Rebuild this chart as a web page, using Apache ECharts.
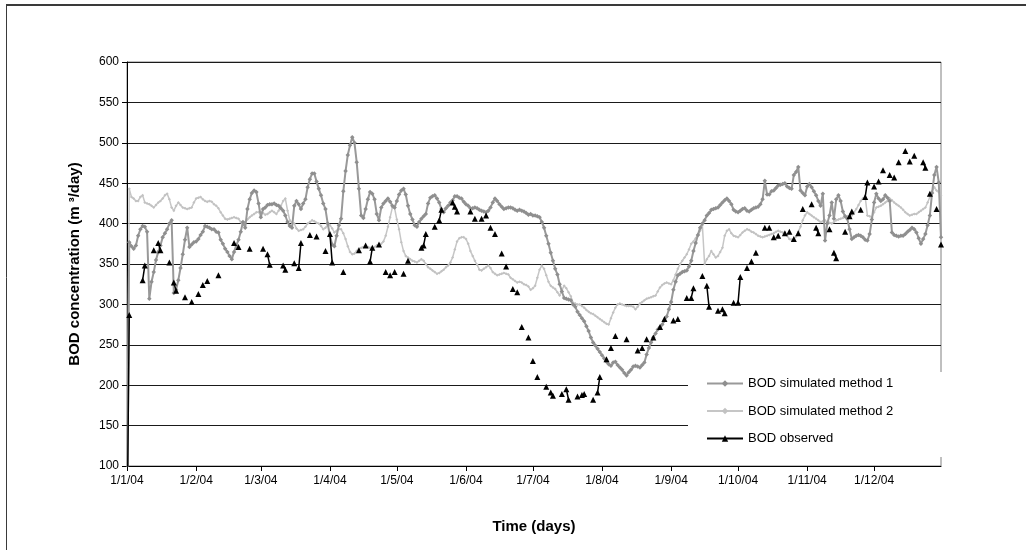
<!DOCTYPE html>
<html>
<head>
<meta charset="utf-8">
<script src="https://cdn.jsdelivr.net/npm/echarts@6/dist/echarts.min.js"></script>
<style>
  html, body { margin: 0; padding: 0; background: #fff; }
  #chart { width: 1026px; height: 550px; }
</style>
</head>
<body>
<div id="chart"></div>
<script>
// Daily BOD load, 2004 (day 0 = 1 January)
const method1 = [
  0,377,372,369,373,385,393,397,396,390,
  307,328,340,355,365,373,383,388,393,400,
  404,314,318,330,345,362,380,395,371,374,
  377,378,381,386,390,397,396,395,393,393,
  390,389,380,375,369,365,360,356,365,373,
  380,390,402,395,418,430,438,441,439,425,
  408,418,420,423,424,424,425,423,422,419,
  416,410,402,397,395,422,428,424,418,425,
  430,445,455,462,462,452,443,435,425,418,
  400,385,374,372,385,398,406,440,465,485,
  497,507,500,476,443,410,407,418,430,439,
  437,430,412,404,420,425,428,431,427,422,
  420,428,436,441,443,436,422,412,405,398,
  396,402,406,409,412,425,432,434,435,431,
  426,418,414,419,422,426,429,434,434,432,
  431,427,424,422,419,419,420,419,417,416,
  415,414,416,420,426,431,428,424,421,418,
  419,420,420,419,417,416,417,416,415,413,
  411,412,410,410,409,408,402,395,385,375,
  364,354,344,337,325,316,308,307,306,305,
  300,297,291,287,283,279,273,267,259,253,
  249,245,241,237,233,229,226,224,228,229,
  225,222,219,215,212,216,219,223,224,223,
  222,225,228,238,246,253,259,264,269,272,
  275,280,285,294,303,318,328,336,338,340,
  341,342,347,354,366,376,386,395,400,404,
  410,413,417,418,419,420,423,426,429,431,
  428,424,417,415,414,416,418,419,416,415,
  417,419,420,421,424,430,453,436,436,440,
  441,444,447,448,449,450,446,444,443,460,
  464,470,441,438,435,446,449,445,440,435,
  428,422,437,379,400,410,426,406,430,435,
  428,415,409,406,393,381,383,385,386,385,
  383,380,379,387,405,426,437,431,428,430,
  435,432,428,389,386,385,384,385,385,387,
  390,392,395,393,389,382,375,381,387,398,
  410,438,460,470,451,383
];

const method2 = [
  0,443,433,431,428,428,433,435,426,425,
  424,422,420,423,426,428,431,435,437,430,
  420,416,422,426,423,420,419,418,419,420,
  426,431,432,433,430,428,427,428,427,424,
  422,419,414,410,406,405,406,407,408,407,
  406,402,398,402,405,408,410,412,414,414,
  414,413,411,412,414,416,414,412,416,422,
  428,431,416,404,401,400,394,391,392,393,
  396,400,402,404,403,401,400,397,393,395,
  398,398,394,389,391,393,393,388,381,372,
  365,362,363,366,369,370,371,372,371,370,
  369,371,373,374,375,378,385,396,408,420,
  419,405,393,377,366,360,358,356,354,353,
  352,354,356,354,350,346,344,342,340,338,
  339,341,343,346,348,352,358,368,378,382,
  383,383,381,375,366,360,354,349,343,342,
  344,346,348,345,340,338,336,337,338,339,
  338,337,333,331,329,327,328,327,325,324,
  322,318,320,323,333,343,348,344,336,328,
  323,321,319,315,311,318,323,320,315,310,
  302,301,300,300,298,296,293,291,289,288,
  286,284,282,280,278,276,275,283,290,296,
  300,301,300,299,298,298,298,297,294,297,
  301,303,305,307,308,309,310,311,316,321,
  324,326,327,326,325,330,337,344,350,354,
  358,362,368,375,378,382,386,391,398,350,
  356,360,366,362,358,360,365,370,385,391,
  393,388,385,384,383,386,389,391,393,392,
  390,389,387,385,384,383,384,385,386,387,
  388,390,391,390,389,389,385,381,380,381,
  384,390,396,404,410,414,412,410,408,406,
  404,402,403,404,402,401,400,402,404,405,
  406,407,408,409,410,410,414,418,423,428,
  431,433,410,409,408,414,420,421,422,424,
  426,428,431,429,426,424,422,420,417,414,
  412,410,411,412,412,414,416,418,420,426,
  433,440,445,441,439,435
];

// Observed samples: day of year and measured value
const observedDays = [
  0,1,7,8,12,14,15,19,21,22,26,29,32,34,36,41,48,50,55,61,63,64,70,71,75,77,78,82,85,89,
  91,92,97,104,107,109,110,113,116,118,120,124,126,132,133,134,138,140,141,146,147,148,
  154,156,159,161,163,165,168,170,173,175,177,180,182,184,188,190,191,195,197,198,202,
  204,205,209,211,212,215,217,219,224,229,231,233,236,239,241,245,247,251,253,254,258,
  260,261,265,267,268,272,274,275,278,280,282,286,288,290,292,295,297,299,301,303,307,
  309,310,315,317,318,322,324,325,329,331,332,335,337,339,342,344,346,349,351,353,357,
  358,360,363,365
];
const observedValues = [
  0,287,330,348,367,376,367,352,327,317,309,303,313,324,329,336,376,371,369,369,362,349,348,343,351,345,376,386,384,366,
  387,352,340,367,373,353,370,374,340,336,340,338,354,370,373,387,396,404,417,426,421,415,
  415,406,406,410,395,387,363,347,319,315,272,259,230,210,198,191,187,189,195,182,186,
  188,189,182,191,210,232,246,261,257,243,246,257,259,272,282,280,282,308,308,320,335,
  323,297,292,294,289,302,302,334,345,353,364,395,395,383,385,388,390,381,388,418,424,
  395,388,393,364,357,390,409,415,417,433,451,446,452,466,460,457,476,490,477,484,476,
  469,437,418,374
];

// Month starts on the time axis
const monthStartDays = [0, 31, 60, 91, 121, 152, 182, 213, 244, 274, 305, 335];
const monthLabels = ['1/1/04','1/2/04','1/3/04','1/4/04','1/5/04','1/6/04',
                     '1/7/04','1/8/04','1/9/04','1/10/04','1/11/04','1/12/04'];

const seriesNames = ['BOD simulated method 1', 'BOD simulated method 2', 'BOD observed'];
const yTitle = 'BOD concentration (m \u00B3/day)';
const xTitle = 'Time (days)';

const FONT = 'Arial, "Liberation Sans", sans-serif';

const daily = arr => arr.map((v, i) => [i, v]);

// Observed points joined only on consecutive days; gaps break the line
const observedData = [];
observedDays.forEach((d, i) => {
  if (i > 0 && d - observedDays[i - 1] > 1) observedData.push([d - 0.5, null]);
  observedData.push([d, observedValues[i]]);
});

const chart = echarts.init(document.getElementById('chart'), null, { renderer: 'canvas' });

chart.setOption({
  animation: false,
  backgroundColor: '#fff',
  textStyle: { fontFamily: FONT },
  grid: {
    left: 127, right: 85, top: 62, bottom: 84,
    show: true, borderColor: '#808080', borderWidth: 1, backgroundColor: 'transparent'
  },
  graphic: [
    { type: 'line', shape: { x1: 6, y1: 5, x2: 1026, y2: 5 }, style: { stroke: '#3a3a3a', lineWidth: 2 }, silent: true },
    { type: 'line', shape: { x1: 6.5, y1: 5, x2: 6.5, y2: 550 }, style: { stroke: '#3a3a3a', lineWidth: 1 }, silent: true }
  ],
  legend: {
    orient: 'vertical',
    left: 688, top: 372,
    backgroundColor: '#fff',
    padding: [5, 50, 12, 18],
    itemGap: 14.5,
    itemWidth: 36, itemHeight: 8,
    data: seriesNames,
    textStyle: { fontFamily: FONT, fontSize: 13, color: '#000' }
  },
  xAxis: {
    type: 'value',
    min: 0, max: 365,
    name: xTitle,
    nameLocation: 'middle',
    nameGap: 53,
    nameTextStyle: { fontFamily: FONT, fontSize: 15, fontWeight: 'bold', color: '#000' },
    axisLine: { show: true, onZero: false, lineStyle: { color: '#000', width: 1 } },
    axisTick: { show: true, inside: false, length: 5, customValues: monthStartDays, lineStyle: { color: '#000' } },
    axisLabel: {
      customValues: monthStartDays,
      margin: 9,
      fontFamily: FONT, fontSize: 12, color: '#000',
      formatter: v => monthLabels[monthStartDays.indexOf(Math.round(v))] || ''
    },
    splitLine: { show: false }
  },
  yAxis: {
    type: 'value',
    min: 100, max: 600, interval: 50,
    name: yTitle,
    nameLocation: 'middle',
    nameGap: 45,
    nameTextStyle: { fontFamily: FONT, fontSize: 15, fontWeight: 'bold', color: '#000' },
    axisLine: { show: true, lineStyle: { color: '#000', width: 1 } },
    axisTick: { show: true, inside: false, length: 5, lineStyle: { color: '#000' } },
    axisLabel: { margin: 8, fontFamily: FONT, fontSize: 12, color: '#000' },
    splitLine: { show: true, lineStyle: { color: '#1a1a1a', width: 1 } }
  },
  series: [
    {
      name: seriesNames[0],
      type: 'line',
      z: 3,
      data: daily(method1),
      symbol: 'diamond', symbolSize: 4.5, showSymbol: true,
      lineStyle: { color: '#999999', width: 2 },
      itemStyle: { color: '#8f8f8f' },
      clip: true
    },
    {
      name: seriesNames[1],
      type: 'line',
      z: 2,
      data: daily(method2),
      symbol: 'diamond', symbolSize: 3, showSymbol: true,
      lineStyle: { color: '#c6c6c6', width: 1.5 },
      itemStyle: { color: '#c2c2c2' },
      clip: true
    },
    {
      name: seriesNames[2],
      type: 'line',
      z: 4,
      data: observedData,
      connectNulls: false,
      symbol: 'triangle', symbolSize: 6, showSymbol: true,
      lineStyle: { color: '#000', width: 1.5 },
      itemStyle: { color: '#000' },
      clip: true
    }
  ]
});
</script>
</body>
</html>
